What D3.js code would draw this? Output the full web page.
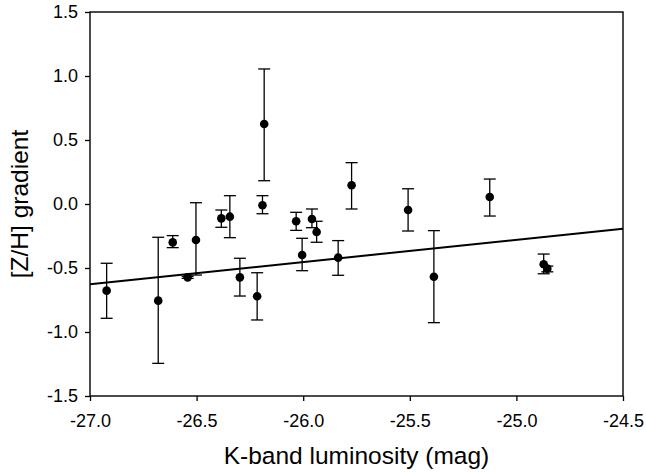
<!DOCTYPE html>
<html>
<head>
<meta charset="utf-8">
<script src="https://cdn.jsdelivr.net/npm/d3@7"></script>
<style>
  html, body { margin: 0; padding: 0; background: #fff; }
  svg { display: block; }
  text { font-family: "Liberation Sans", Arial, sans-serif; fill: #000; }
</style>
</head>
<body>
<svg id="chart" width="646" height="474"></svg>
<script>
// K-band luminosity (mag)
const lumK = [-26.922, -26.680, -26.612, -26.542, -26.503, -26.384, -26.344, -26.297,
              -26.216, -26.183, -26.191, -26.033, -26.005, -25.959, -25.937, -25.836,
              -25.773, -25.508, -25.387, -25.125, -24.872, -24.855];
// [Z/H] gradient
const gradZH = [-0.677, -0.755, -0.300, -0.573, -0.281, -0.112, -0.099, -0.573,
                -0.721, 0.625, -0.010, -0.135, -0.398, -0.117, -0.219, -0.419,
                0.146, -0.047, -0.568, 0.055, -0.471, -0.505];
// error bar upper and lower ends
const errHigh = [-0.463, -0.260, -0.247, -0.565, 0.010, -0.047, 0.065, -0.424,
                 -0.537, 1.055, 0.065, -0.065, -0.268, -0.039, -0.135, -0.286,
                 0.323, 0.119, -0.208, 0.195, -0.391, -0.485];
const errLow = [-0.893, -1.245, -0.341, -0.581, -0.555, -0.182, -0.263, -0.719,
                -0.906, 0.182, -0.076, -0.206, -0.521, -0.185, -0.299, -0.557,
                -0.039, -0.211, -0.927, -0.094, -0.545, -0.530];
// linear fit end points
const fitX = [-27.0, -24.5];
const fitY = [-0.627, -0.193];

const xTicks = [-27.0, -26.5, -26.0, -25.5, -25.0, -24.5];
const yTicks = [-1.5, -1.0, -0.5, 0.0, 0.5, 1.0, 1.5];

(function () {
const svg = d3.select("#chart");
const pL = 90, pR = 623, pT = 12, pB = 396;

const x = d3.scaleLinear().domain([-27, -24.5]).range([pL, pR]);
const y = d3.scaleLinear().domain([-1.5, 1.5]).range([pB, pT]);
const fmt = d => d3.format(".1f")(d).replace("\u2212", "-");

// frame
svg.append("rect")
  .attr("x", pL).attr("y", pT)
  .attr("width", pR - pL).attr("height", pB - pT)
  .attr("fill", "none").attr("stroke", "#000").attr("stroke-width", 1.4);

// axes
const xAxis = svg.append("g").attr("transform", `translate(0,${pB})`)
  .call(d3.axisBottom(x).tickValues(xTicks).tickFormat(fmt).tickSize(5).tickPadding(13));
const yAxis = svg.append("g").attr("transform", `translate(${pL},0)`)
  .call(d3.axisLeft(y).tickValues(yTicks).tickFormat(fmt).tickSize(5).tickPadding(7));
[xAxis, yAxis].forEach(g => {
  g.select(".domain").remove();
  g.selectAll(".tick line").attr("stroke", "#000").attr("stroke-width", 1.3);
  g.selectAll(".tick text").style("font-family", "'Liberation Sans', Arial, sans-serif")
    .style("font-size", "18px").attr("fill", "#000");
});

// fit line
svg.append("line")
  .attr("x1", x(fitX[0])).attr("y1", y(fitY[0]))
  .attr("x2", x(fitX[1])).attr("y2", y(fitY[1]))
  .attr("stroke", "#000").attr("stroke-width", 2);

// error bars
const idx = d3.range(lumK.length);
const capHalf = 6;
const eb = svg.append("g").attr("stroke", "#000").attr("stroke-width", 1.3);
idx.forEach(i => {
  const cx = x(lumK[i]);
  eb.append("line").attr("x1", cx).attr("x2", cx).attr("y1", y(errHigh[i])).attr("y2", y(errLow[i]));
  eb.append("line").attr("x1", cx - capHalf).attr("x2", cx + capHalf).attr("y1", y(errHigh[i])).attr("y2", y(errHigh[i]));
  eb.append("line").attr("x1", cx - capHalf).attr("x2", cx + capHalf).attr("y1", y(errLow[i])).attr("y2", y(errLow[i]));
});

// points
svg.append("g").selectAll("circle").data(idx).join("circle")
  .attr("cx", i => x(lumK[i])).attr("cy", i => y(gradZH[i]))
  .attr("r", 4.3).attr("fill", "#000");

// axis titles
svg.append("text")
  .attr("x", (pL + pR) / 2).attr("y", 464)
  .attr("text-anchor", "middle").style("font-size", "24.5px")
  .text("K-band luminosity (mag)");
svg.append("text")
  .attr("transform", `translate(28,${(pT + pB) / 2}) rotate(-90)`)
  .attr("text-anchor", "middle").style("font-size", "24.5px")
  .text("[Z/H] gradient");
})();
</script>
</body>
</html>
